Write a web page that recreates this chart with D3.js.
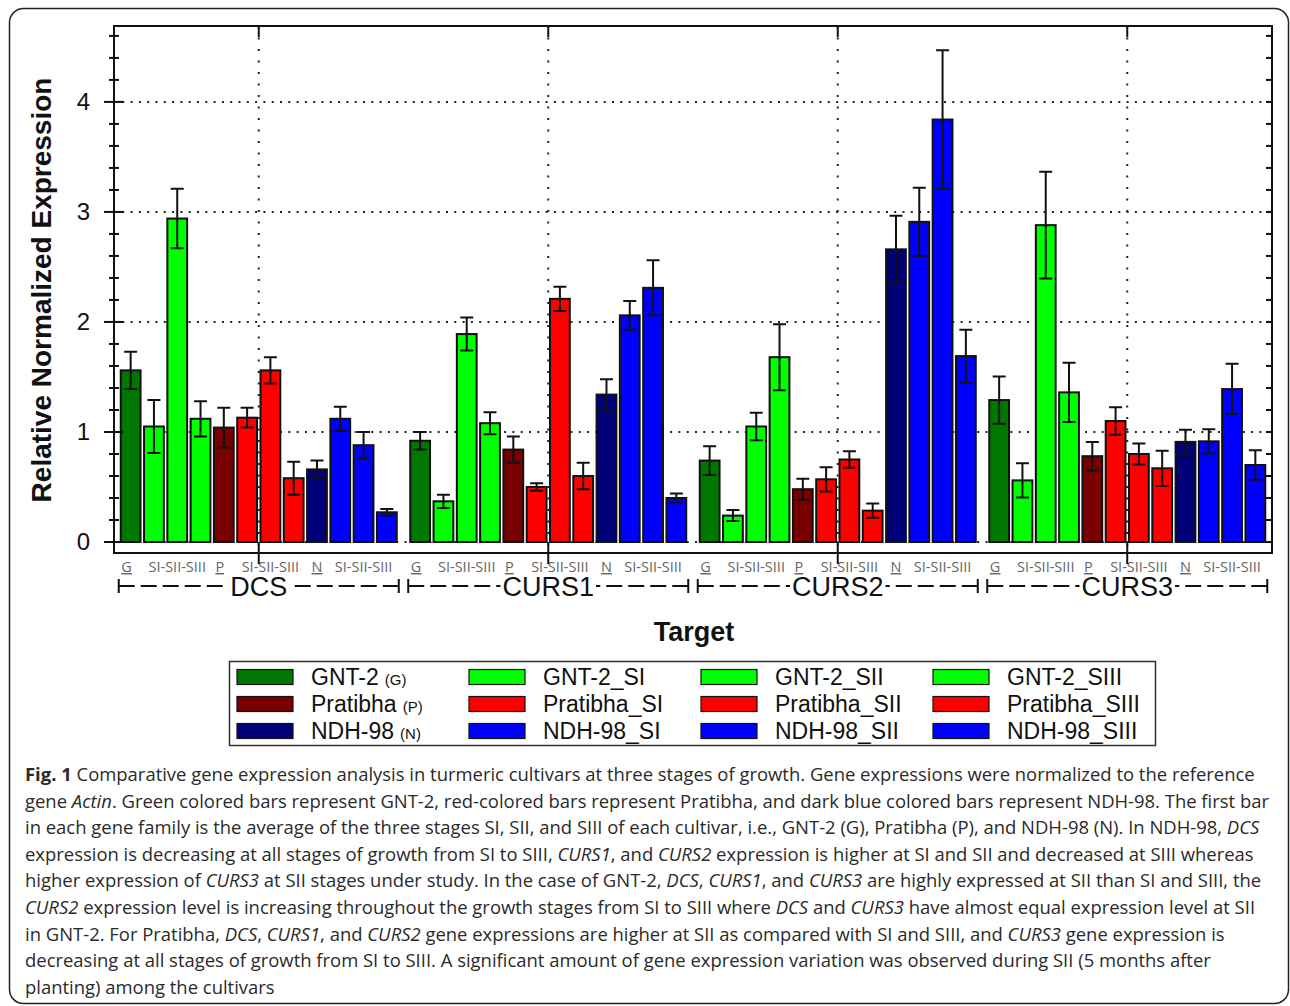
<!DOCTYPE html>
<html>
<head>
<meta charset="utf-8">
<script src="https://cdn.jsdelivr.net/npm/d3@7"></script>
<style>
body { margin: 0; background: #fff; }
</style>
</head>
<body>
<script>
// ---- data ----
var genes = ["DCS", "CURS1", "CURS2", "CURS3"];
var series = ["GNT-2", "GNT-2_SI", "GNT-2_SII", "GNT-2_SIII",
              "Pratibha", "Pratibha_SI", "Pratibha_SII", "Pratibha_SIII",
              "NDH-98", "NDH-98_SI", "NDH-98_SII", "NDH-98_SIII"];
var seriesAbbr = ["(G)", "", "", "", "(P)", "", "", "", "(N)", "", "", ""];

var dcsMeans    = [1.56, 1.05, 2.94, 1.12, 1.04, 1.13, 1.56, 0.58, 0.66, 1.12, 0.88, 0.27];
var dcsErrors   = [0.17, 0.24, 0.27, 0.16, 0.18, 0.09, 0.12, 0.15, 0.08, 0.11, 0.12, 0.03];
var curs1Means  = [0.92, 0.37, 1.89, 1.08, 0.84, 0.50, 2.21, 0.60, 1.34, 2.06, 2.31, 0.40];
var curs1Errors = [0.08, 0.06, 0.15, 0.10, 0.12, 0.035, 0.11, 0.12, 0.14, 0.13, 0.25, 0.04];
var curs2Means  = [0.74, 0.24, 1.05, 1.68, 0.48, 0.57, 0.75, 0.285, 2.66, 2.91, 3.84, 1.69];
var curs2Errors = [0.13, 0.05, 0.125, 0.30, 0.095, 0.11, 0.075, 0.065, 0.305, 0.31, 0.63, 0.24];
var curs3Means  = [1.29, 0.56, 2.88, 1.36, 0.78, 1.10, 0.80, 0.67, 0.91, 0.915, 1.39, 0.70];
var curs3Errors = [0.215, 0.155, 0.485, 0.27, 0.13, 0.125, 0.095, 0.16, 0.11, 0.11, 0.23, 0.135];

var stageLabels = ["G", "SI-SII-SIII", "P", "SI-SII-SIII", "N", "SI-SII-SIII"];
var stageBars   = [0, 2, 4, 6, 8, 10];
var yTicks = [0, 1, 2, 3, 4];

var captionLines = [
  "**Fig. 1** Comparative gene expression analysis in turmeric cultivars at three stages of growth. Gene expressions were normalized to the reference",
  "gene *Actin*. Green colored bars represent GNT-2, red-colored bars represent Pratibha, and dark blue colored bars represent NDH-98. The first bar",
  "in each gene family is the average of the three stages SI, SII, and SIII of each cultivar, i.e., GNT-2 (G), Pratibha (P), and NDH-98 (N). In NDH-98, *DCS*",
  "expression is decreasing at all stages of growth from SI to SIII, *CURS1*, and *CURS2* expression is higher at SI and SII and decreased at SIII whereas",
  "higher expression of *CURS3* at SII stages under study. In the case of GNT-2, *DCS*, *CURS1*, and *CURS3* are highly expressed at SII than SI and SIII, the",
  "*CURS2* expression level is increasing throughout the growth stages from SI to SIII where *DCS* and *CURS3* have almost equal expression level at SII",
  "in GNT-2. For Pratibha, *DCS*, *CURS1*, and *CURS2* gene expressions are higher at SII as compared with SI and SIII, and *CURS3* gene expression is",
  "decreasing at all stages of growth from SI to SIII. A significant amount of gene expression variation was observed during SII (5 months after",
  "planting) among the cultivars"
];

// ---- styles ----
var seriesColors = ["#007800", "#00ff00", "#00ff00", "#00ff00",
                    "#780000", "#ff0000", "#ff0000", "#ff0000",
                    "#000078", "#0000ff", "#0000ff", "#0000ff"];
var ARIAL = "Arial, 'Liberation Sans', sans-serif";
var OPEN = "'Open Sans', sans-serif";

var means = [dcsMeans, curs1Means, curs2Means, curs3Means];
var errors = [dcsErrors, curs1Errors, curs2Errors, curs3Errors];

var width = 1290, height = 1006;
var pLeft = 114, pRight = 1272, pTop = 26, pBottom = 553;

var svg = d3.select("body").append("svg")
  .attr("width", width)
  .attr("height", height)
  .style("font-family", ARIAL);

// outer frame
svg.append("rect")
  .attr("x", 9.5).attr("y", 8.5)
  .attr("width", 1279).attr("height", 995)
  .attr("rx", 14)
  .attr("fill", "none").attr("stroke", "#222").attr("stroke-width", 1.5);

var x0 = d3.scaleBand().domain(genes).range([pLeft, pRight]).padding(0);
var x1 = d3.scaleBand().domain(series)
  .range([5, x0.bandwidth() - 5])
  .paddingInner(0.15).paddingOuter(0.075);
var y = d3.scaleLinear().domain([-0.1, 4.69]).range([pBottom, pTop]);

// grid
svg.append("g").selectAll("line")
  .data(yTicks)
  .enter().append("line")
  .attr("x1", pLeft).attr("x2", pRight)
  .attr("y1", function(d){ return y(d); })
  .attr("y2", function(d){ return y(d); })
  .attr("stroke", "#222").attr("stroke-width", 2)
  .attr("stroke-dasharray", "2,6.3");

svg.append("g").selectAll("line")
  .data(genes)
  .enter().append("line")
  .attr("x1", function(d){ return x0(d) + x0.bandwidth() / 2; })
  .attr("x2", function(d){ return x0(d) + x0.bandwidth() / 2; })
  .attr("y1", pTop).attr("y2", pBottom)
  .attr("stroke", "#222").attr("stroke-width", 2)
  .attr("stroke-dasharray", "2,9.5");

// bars
var groups = svg.append("g").selectAll("g")
  .data(genes)
  .enter().append("g")
  .attr("transform", function(d){ return "translate(" + x0(d) + ",0)"; });

var cells = groups.selectAll("g")
  .data(function(g, i){
    return series.map(function(s, j){
      return {gene: g, series: s, idx: j, value: means[i][j], err: errors[i][j]};
    });
  })
  .enter().append("g");

cells.append("rect")
  .attr("x", function(d){ return x1(d.series); })
  .attr("width", x1.bandwidth())
  .attr("y", function(d){ return y(d.value); })
  .attr("height", function(d){ return y(0) - y(d.value); })
  .attr("fill", function(d){ return seriesColors[d.idx]; })
  .attr("stroke", "#111").attr("stroke-width", 2);

// error bars
var cap = 6.5;
cells.append("path")
  .attr("d", function(d){
    var cx = x1(d.series) + x1.bandwidth() / 2;
    var hi = y(d.value + d.err), lo = y(d.value - d.err);
    return "M" + cx + "," + hi + "V" + lo +
      "M" + (cx - cap) + "," + hi + "H" + (cx + cap) +
      "M" + (cx - cap) + "," + lo + "H" + (cx + cap);
  })
  .attr("fill", "none").attr("stroke", "#111").attr("stroke-width", 2);

// plot frame
svg.append("rect")
  .attr("x", pLeft).attr("y", pTop)
  .attr("width", pRight - pLeft).attr("height", pBottom - pTop)
  .attr("fill", "none").attr("stroke", "#111").attr("stroke-width", 2);

// y ticks (crossing the left axis, inward on the right)
var minor = d3.range(0, 4.61, 0.2);
function isMajor(d){ return Math.abs(d - Math.round(d)) < 1e-6; }
svg.append("g").selectAll("line")
  .data(minor)
  .enter().append("line")
  .attr("x1", function(d){ return isMajor(d) ? pLeft - 10 : pLeft - 5; })
  .attr("x2", function(d){ return isMajor(d) ? pLeft + 9 : pLeft + 5; })
  .attr("y1", function(d){ return y(d); })
  .attr("y2", function(d){ return y(d); })
  .attr("stroke", "#111").attr("stroke-width", 2);

svg.append("g").selectAll("line")
  .data(minor)
  .enter().append("line")
  .attr("x1", pRight - 6).attr("x2", pRight)
  .attr("y1", function(d){ return y(d); })
  .attr("y2", function(d){ return y(d); })
  .attr("stroke", "#111").attr("stroke-width", 2);

svg.append("g").selectAll("text")
  .data(yTicks)
  .enter().append("text")
  .attr("x", 90)
  .attr("y", function(d){ return y(d) + 8.5; })
  .attr("text-anchor", "end")
  .attr("font-size", 24)
  .attr("fill", "#111")
  .text(function(d){ return d; });

// center ticks at each gene (top and below axis)
genes.forEach(function(g){
  var cx = x0(g) + x0.bandwidth() / 2;
  svg.append("line").attr("x1", cx).attr("x2", cx).attr("y1", pTop).attr("y2", pTop + 11)
    .attr("stroke", "#111").attr("stroke-width", 2);
  svg.append("line").attr("x1", cx).attr("x2", cx).attr("y1", y(0)).attr("y2", 564)
    .attr("stroke", "#111").attr("stroke-width", 2);
});

// stage labels under bars
groups.each(function(g){
  var gsel = d3.select(this);
  stageLabels.forEach(function(lab, k){
    var s = series[stageBars[k]];
    var cx = x1(s) + x1.bandwidth() / 2;
    var short = lab.length === 1;
    gsel.append("text")
      .attr("x", short && k < 4 ? cx - 4 : cx)
      .attr("y", 572)
      .attr("text-anchor", "middle")
      .style("font-family", OPEN)
      .attr("font-size", 14.5)
      .attr("fill", "#666")
      .style("text-decoration", short ? "underline" : null)
      .text(lab);
  });

  // gene bracket line
  var x1s = x1(series[0]) - 2, x1e = x1(series[11]) + x1.bandwidth() + 2;
  var mid = x0.bandwidth() / 2;
  var t = gsel.append("text")
    .attr("x", mid).attr("y", 596)
    .attr("text-anchor", "middle")
    .attr("font-size", 27)
    .attr("fill", "#111")
    .text(g);
  var tw = t.node().getComputedTextLength();
  var ly = 586;
  gsel.append("line").attr("x1", x1s).attr("x2", mid - tw / 2 - 2).attr("y1", ly).attr("y2", ly)
    .attr("stroke", "#111").attr("stroke-width", 2).attr("stroke-dasharray", "16,6");
  gsel.append("line").attr("x1", x1e).attr("x2", mid + tw / 2 + 2).attr("y1", ly).attr("y2", ly)
    .attr("stroke", "#111").attr("stroke-width", 2).attr("stroke-dasharray", "16,6");
  [x1s, x1e].forEach(function(xx){
    gsel.append("line").attr("x1", xx).attr("x2", xx).attr("y1", ly - 7).attr("y2", ly + 7)
      .attr("stroke", "#111").attr("stroke-width", 2);
  });
});

// axis titles
svg.append("text")
  .attr("transform", "translate(51,290) rotate(-90)")
  .attr("text-anchor", "middle")
  .attr("font-size", 28).attr("font-weight", "bold")
  .attr("fill", "#111")
  .text("Relative Normalized Expression");

svg.append("text")
  .attr("x", 694).attr("y", 641)
  .attr("text-anchor", "middle")
  .attr("font-size", 27).attr("font-weight", "bold")
  .attr("fill", "#111")
  .text("Target");

// legend
svg.append("rect")
  .attr("x", 229.5).attr("y", 661.5).attr("width", 926).attr("height", 84)
  .attr("fill", "none").attr("stroke", "#333").attr("stroke-width", 1.5);

var leg = svg.append("g").selectAll("g")
  .data(series)
  .enter().append("g")
  .attr("transform", function(d, i){
    return "translate(" + (237 + (i % 4) * 232) + "," + (677 + Math.floor(i / 4) * 27) + ")";
  });
leg.append("rect")
  .attr("x", 0).attr("y", -7.5).attr("width", 56).attr("height", 15)
  .attr("fill", function(d, i){ return seriesColors[i]; })
  .attr("stroke", "#111").attr("stroke-width", 1.2);
var lt = leg.append("text")
  .attr("x", 74).attr("y", 8)
  .attr("font-size", 23).attr("fill", "#111");
lt.append("tspan").text(function(d){ return d; });
lt.append("tspan")
  .attr("font-size", 15).attr("dx", 6)
  .text(function(d, i){ return seriesAbbr[i]; });

// caption
var capG = svg.append("g").style("font-family", OPEN);
captionLines.forEach(function(line, i){
  var t = capG.append("text")
    .attr("x", 25).attr("y", 781 + i * 26.6)
    .attr("font-size", 18.45)
    .attr("fill", "#2a2a2a");
  line.split(/(\*\*[^*]+\*\*|\*[^*]+\*)/).forEach(function(part){
    if (!part) return;
    var ts = t.append("tspan");
    if (part.indexOf("**") === 0) {
      ts.attr("font-weight", "bold").text(part.slice(2, -2));
    } else if (part.charAt(0) === "*") {
      ts.attr("font-style", "italic").text(part.slice(1, -1));
    } else {
      ts.text(part);
    }
  });
});
</script>
</body>
</html>
